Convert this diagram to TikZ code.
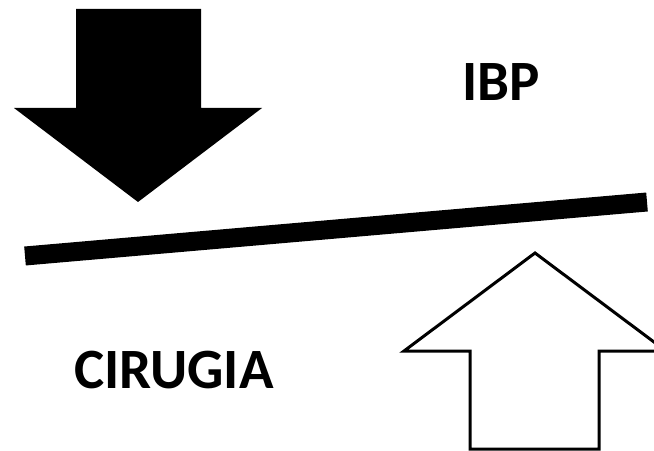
\documentclass[tikz,border=0pt]{standalone}
\usepackage{fontspec}
\setmainfont{Carlito}
\begin{document}
\begin{tikzpicture}[x=1bp,y=-1bp,
  lbl/.style={font=\fontsize{57bp}{62bp}\selectfont\bfseries, inner sep=0pt, anchor=base}]
\useasboundingbox (0,0) rectangle (654,451);
\clip (0,0) rectangle (654,451);
% down arrow (filled)
\fill[black] (76,9) -- (201,9) -- (201,108) -- (262,108) -- (138,202) -- (14,108) -- (76,108) -- cycle;
% beam
\coordinate (bl) at (25,256);
\coordinate (br) at (647,202);
\draw[line width=19bp] (bl) -- (br);
% up arrow (outline)
\draw[line width=3bp, line join=miter, fill=white] (535,253) -- (666,351) -- (599,351) -- (599,449) -- (470,449) -- (470,351) -- (404,351) -- cycle;
% labels
\node[lbl] (ibp) at (501,101) {IBP};
\node[lbl] (cir) at (174,388) {CIRUGIA};
\end{tikzpicture}
\end{document}
